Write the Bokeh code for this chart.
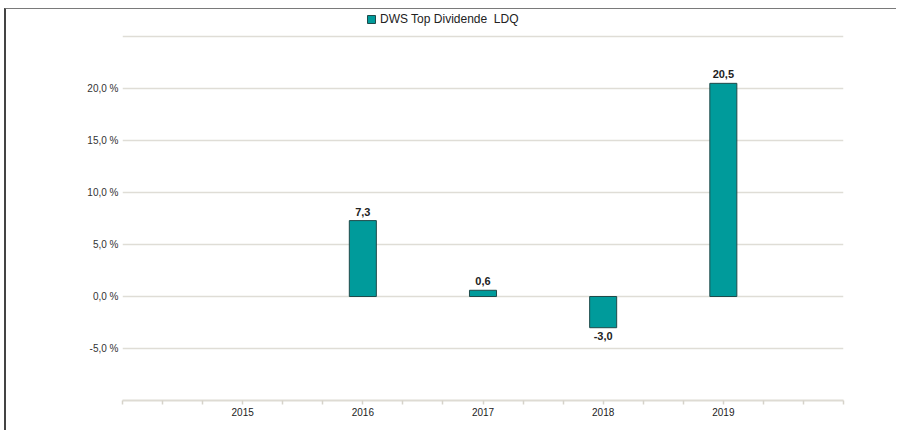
from bokeh.plotting import figure
from bokeh.models import ColumnDataSource, FixedTicker, Legend, LegendItem, LabelSet, Range1d
from bokeh.core.properties import value
from bokeh.embed import file_html
from bokeh.resources import INLINE

# ---- data ----
years = [2015, 2016, 2017, 2018, 2019]
year_labels = ["2015", "2016", "2017", "2018", "2019"]
values = [None, 7.3, 0.6, -3.0, 20.5]
series_name = "DWS Top Dividende  LDQ"
y_label_ticks = [-5, 0, 5, 10, 15, 20]
y_grid_ticks = [-5, 0, 5, 10, 15, 20, 25]

FONT = "Liberation Sans"
TEAL = "#009b9b"
EDGE = "#1f4a4a"

xs = [y for y, v in zip(years, values) if v is not None]
vs = [v for v in values if v is not None]
labels = [f"{v:.1f}".replace(".", ",") for v in vs]
offsets = [5 if v >= 0 else -4 for v in vs]
baselines = ["bottom" if v >= 0 else "top" for v in vs]

src = ColumnDataSource(dict(x=xs, top=vs, label=labels, off=offsets, base=baselines))

# frame extends above the 25 % line to leave room for the legend
p = figure(width=892, height=422, output_backend="svg", toolbar_location=None,
           x_range=Range1d(2014, 2020), y_range=Range1d(-10, 27.6),
           min_border_left=116, min_border_right=55, min_border_top=0,
           min_border_bottom=31)
p.styles = {"border-top": "1px solid #7a7a7a", "border-left": "2px solid #444444",
            "margin-top": "8px", "margin-left": "4px"}
p.outline_line_color = None
p.background_fill_color = "white"

r = p.vbar(x="x", top="top", bottom=0, width=0.225, source=src,
           fill_color=TEAL, line_color=EDGE, line_width=1)

lbl = LabelSet(x="x", y="top", text="label", source=src, y_offset="off",
               text_align="center", text_baseline="base",
               text_font=value(FONT), text_font_size=value("11px"),
               text_font_style=value("bold"), text_color="#222222")
p.add_layout(lbl)

# x axis
xax = p.xaxis[0]
xax.ticker = FixedTicker(ticks=years,
                         minor_ticks=[2014 + k / 3 for k in range(19)])
xax.major_label_overrides = {y: s for y, s in zip(years, year_labels)}
xax.axis_line_color = "#dedbd3"
xax.axis_line_width = 2
xax.major_tick_line_color = None
xax.major_tick_out = 0
xax.major_tick_in = 0
xax.minor_tick_line_color = "#d6d3ca"
xax.minor_tick_line_width = 1.5
xax.minor_tick_out = 4
xax.minor_tick_in = 0
xax.major_label_standoff = 3
xax.major_label_text_font = FONT
xax.major_label_text_font_size = "10px"
xax.major_label_text_color = "#222222"

# y axis
yax = p.yaxis[0]
yax.ticker = FixedTicker(ticks=y_label_ticks)
yax.major_label_overrides = {t: f"{t:.1f} %".replace(".", ",") for t in y_label_ticks}
yax.axis_line_color = None
yax.major_tick_line_color = None
yax.minor_tick_line_color = None
yax.major_tick_out = 0
yax.major_label_standoff = 4
yax.major_label_text_font = FONT
yax.major_label_text_font_size = "10px"
yax.major_label_text_color = "#333333"

p.xgrid.grid_line_color = None
p.ygrid.ticker = FixedTicker(ticks=y_grid_ticks)
p.ygrid.grid_line_color = "#dfddd6"
p.ygrid.grid_line_width = 1.5

legend = Legend(items=[LegendItem(label=series_name, renderers=[r])],
                location=(244, 374), orientation="horizontal",
                padding=0, margin=0, border_line_color=None,
                background_fill_alpha=0, glyph_width=10, glyph_height=10,
                label_height=13, label_standoff=4,
                label_text_font=FONT, label_text_font_size="12px",
                label_text_color="#222222")
p.add_layout(legend, "center")

open("out.html", "w").write(file_html(p, INLINE))
